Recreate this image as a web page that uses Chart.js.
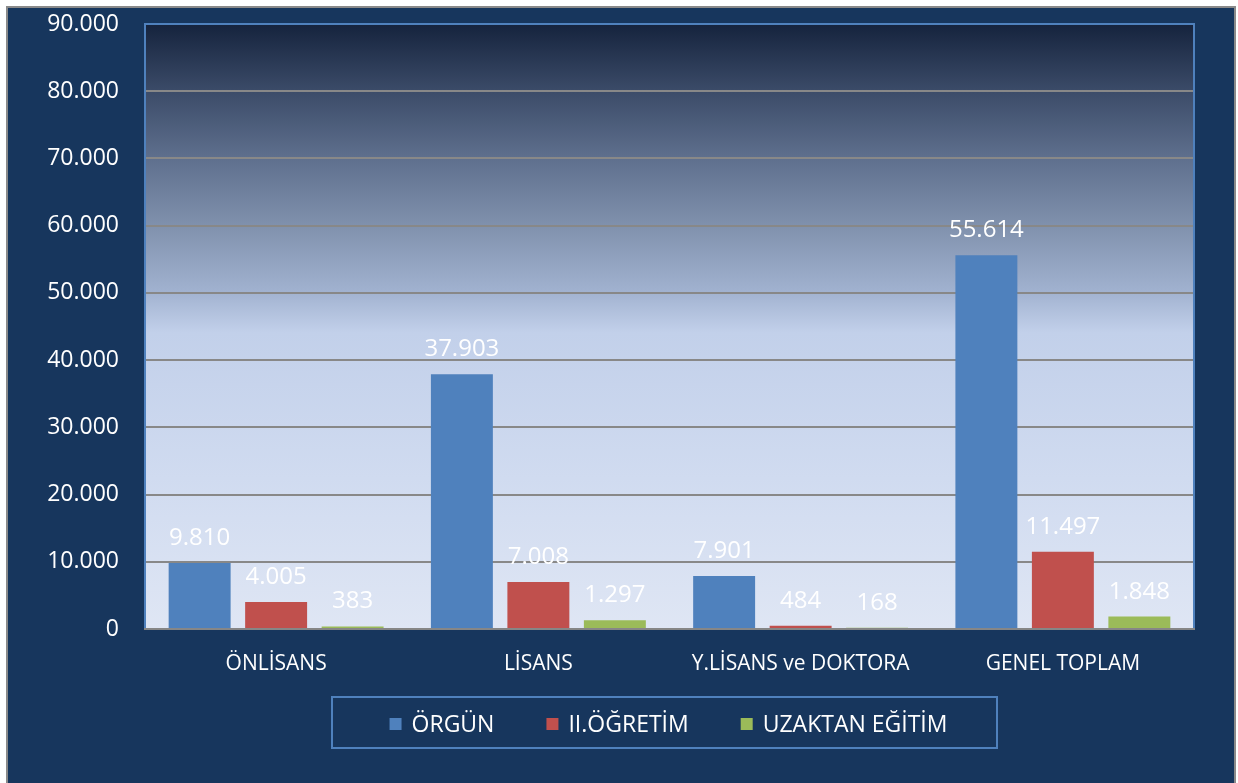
<!DOCTYPE html>
<html>
<head>
<meta charset="utf-8">
<script src="https://cdn.jsdelivr.net/npm/chart.js@4/dist/chart.umd.min.js"></script>
<style>
html,body{margin:0;padding:0;background:#fff;}
#wrap{width:1238px;height:783px;position:relative;}
</style>
</head>
<body>
<div id="wrap"><canvas id="c" width="1238" height="783"></canvas></div>
<script>
const categories = ["ÖNLİSANS", "LİSANS", "Y.LİSANS ve DOKTORA", "GENEL TOPLAM"];
const seriesNames = ["ÖRGÜN", "II.ÖĞRETİM", "UZAKTAN EĞİTİM"];
const orgun = [9810, 37903, 7901, 55614];
const ikinciOgretim = [4005, 7008, 484, 11497];
const uzaktan = [383, 1297, 168, 1848];
const yTicks = [0, 10000, 20000, 30000, 40000, 50000, 60000, 70000, 80000, 90000];
const seriesColors = ["#4F81BD", "#C0504D", "#9BBB59"];

const FONT = "'Open Sans', 'DejaVu Sans', sans-serif";
function fmt(v){ return String(v).replace(/\B(?=(\d{3})+(?!\d))/g, '.'); }

const bgPlugin = {
  id: 'bg',
  beforeDraw(chart){
    const ctx = chart.ctx, a = chart.chartArea;
    ctx.save();
    ctx.fillStyle = '#ffffff';
    ctx.fillRect(0,0,chart.width,chart.height);
    ctx.fillStyle = '#17365D';
    ctx.fillRect(7,7,1228,800);
    ctx.strokeStyle = '#8a8a8a';
    ctx.lineWidth = 2;
    ctx.strokeRect(7,7,1228,800);
    const g = ctx.createLinearGradient(0,a.top,0,a.bottom);
    g.addColorStop(0,'#15233d');
    g.addColorStop(0.11,'#3b4b68');
    g.addColorStop(0.22,'#5e6f8d');
    g.addColorStop(0.33,'#7f90ac');
    g.addColorStop(0.44,'#a0b1cf');
    g.addColorStop(0.51,'#c2d0ea');
    g.addColorStop(0.75,'#d0dbf0');
    g.addColorStop(1,'#dfe6f4');
    ctx.fillStyle = g;
    ctx.fillRect(a.left,a.top,a.right-a.left,a.bottom-a.top);
    ctx.restore();
  },
  afterDatasetsDraw(chart){
    const ctx = chart.ctx, a = chart.chartArea;
    ctx.save();
    ctx.strokeStyle = '#4F81BD';
    ctx.lineWidth = 2;
    ctx.beginPath();
    ctx.moveTo(a.left, a.bottom);
    ctx.lineTo(a.left, a.top);
    ctx.lineTo(a.right, a.top);
    ctx.lineTo(a.right, a.bottom);
    ctx.stroke();
    ctx.strokeStyle = '#868686';
    ctx.beginPath();
    ctx.moveTo(a.left-1, a.bottom);
    ctx.lineTo(a.right+1, a.bottom);
    ctx.stroke();
    ctx.fillStyle = '#ffffff';
    ctx.font = '24px ' + FONT;
    ctx.textAlign = 'center';
    ctx.textBaseline = 'alphabetic';
    chart.data.datasets.forEach((ds, i) => {
      const meta = chart.getDatasetMeta(i);
      meta.data.forEach((el, j) => {
        ctx.fillText(fmt(ds.data[j]), el.x, el.y - 18);
      });
    });
    ctx.font = '23px ' + FONT;
    ctx.textAlign = 'left';
    ctx.textBaseline = 'middle';
    const box = 12, gapBox = 10, gapItem = 52;
    const widths = chart.data.datasets.map(ds => box + gapBox + ctx.measureText(ds.label).width);
    const total = widths.reduce((s,w)=>s+w,0) + gapItem*(widths.length-1);
    let x = 668.5 - total/2;
    const cy = 724;
    chart.data.datasets.forEach((ds, i) => {
      ctx.fillStyle = ds.backgroundColor;
      ctx.fillRect(x, cy - box/2, box, box);
      ctx.fillStyle = '#ffffff';
      ctx.fillText(ds.label, x + box + gapBox, cy + 1);
      x += widths[i] + gapItem;
    });
    ctx.strokeStyle = '#4F81BD';
    ctx.lineWidth = 2;
    ctx.strokeRect(332, 697, 665, 51);
    ctx.restore();
  }
};

new Chart(document.getElementById('c'), {
  type: 'bar',
  data: {
    labels: categories,
    datasets: [
      { label: seriesNames[0], data: orgun, backgroundColor: seriesColors[0] },
      { label: seriesNames[1], data: ikinciOgretim, backgroundColor: seriesColors[1] },
      { label: seriesNames[2], data: uzaktan, backgroundColor: seriesColors[2] }
    ]
  },
  options: {
    responsive: false,
    animation: false,
    devicePixelRatio: 1,
    layout: { padding: { left: 0, right: 44, top: 24, bottom: 0 } },
    datasets: { bar: { categoryPercentage: 0.875, barPercentage: 0.81, borderWidth: 0 } },
    plugins: { legend: { display: false }, tooltip: { enabled: false } },
    scales: {
      x: {
        grid: { display: false, drawTicks: false },
        border: { display: false },
        ticks: { color: '#ffffff', font: { family: FONT, size: 21 }, padding: 22, maxRotation: 0 },
        afterFit(s){ s.height = 154; s.paddingLeft = 0; s.paddingRight = 0; }
      },
      y: {
        min: 0, max: 90000,
        afterBuildTicks(s){ s.ticks = yTicks.map(v => ({ value: v })); },
        grid: { color: '#888888', lineWidth: 2, drawTicks: false },
        border: { display: false },
        ticks: { color: '#ffffff', font: { family: FONT, size: 23 }, padding: 26, callback: v => fmt(v) },
        afterFit(s){ s.width = 145; s.paddingTop = 0; s.paddingBottom = 0; }
      }
    }
  },
  plugins: [bgPlugin]
});
</script>
</body>
</html>
